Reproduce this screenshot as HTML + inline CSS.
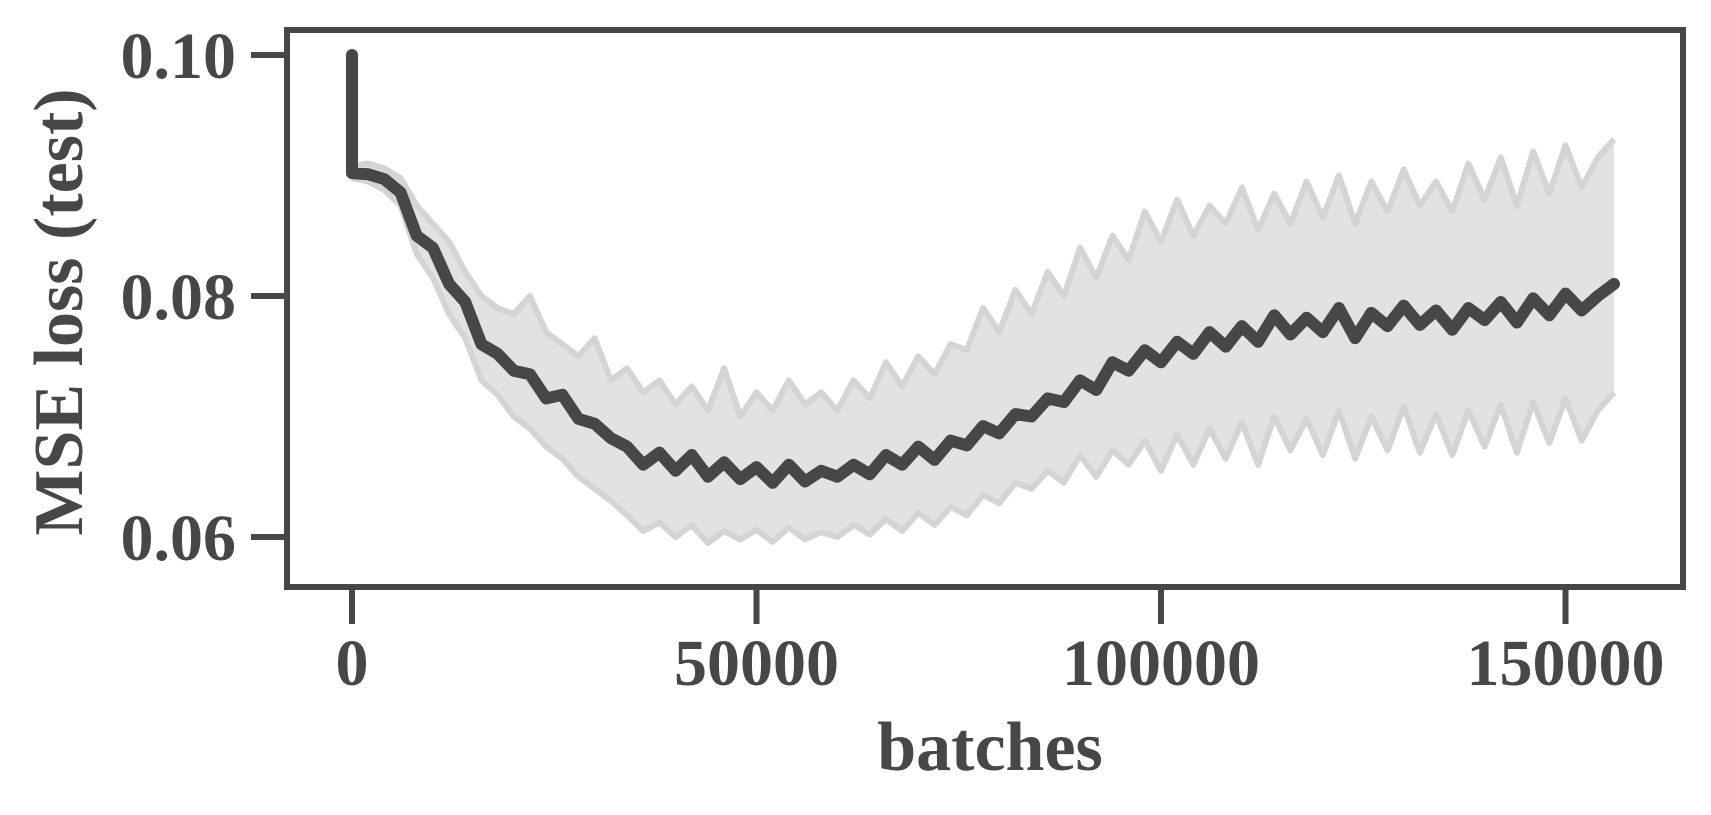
<!DOCTYPE html>
<html><head><meta charset="utf-8"><style>
html,body{margin:0;padding:0;background:#fff;}
svg{display:block;}
text{font-family:"Liberation Serif",serif;font-weight:bold;fill:#474747;}
</style></head><body>
<svg id="chart" width="1711" height="815" viewBox="0 0 1711 815">
<g id="plot"></g>
<rect x="287" y="30" width="1396" height="557" fill="none" stroke="#474747" stroke-width="6"/>
<g id="yaxis"></g>
<g id="xaxis"></g>
<text x="990" y="770" font-size="70" text-anchor="middle">batches</text>
<text transform="translate(82,312) rotate(-90)" font-size="70" text-anchor="middle">MSE loss (test)</text>
</svg>
<script>
const initialLoss = 0.1;
const batches = Array.from({length:79},(_, i)=>i*2000);
const meanLoss = [0.0902,0.0901,0.0897,0.0886,0.0850,0.0840,0.0810,0.0795,0.0760,0.0752,
0.0738,0.0735,0.0715,0.0718,0.0698,0.0694,0.0682,0.0675,0.0660,0.0670,
0.0655,0.0668,0.0650,0.0662,0.0648,0.0658,0.0645,0.0660,0.0646,0.0655,
0.0650,0.0660,0.0652,0.0668,0.0660,0.0675,0.0664,0.0680,0.0676,0.0692,
0.0686,0.0702,0.0700,0.0715,0.0712,0.0730,0.0722,0.0745,0.0738,0.0755,
0.0745,0.0762,0.0752,0.0770,0.0758,0.0775,0.0762,0.0784,0.0768,0.0782,
0.0770,0.0790,0.0765,0.0786,0.0775,0.0792,0.0776,0.0788,0.0772,0.0790,
0.0780,0.0795,0.0778,0.0798,0.0784,0.0802,0.0788,0.0800,0.0810];
const upperLoss = [0.0908,0.0910,0.0906,0.0898,0.0875,0.0860,0.0845,0.0820,0.0800,0.0790,
0.0785,0.0800,0.0770,0.0760,0.0750,0.0765,0.0730,0.0740,0.0720,0.0730,
0.0710,0.0725,0.0705,0.0740,0.0700,0.0720,0.0705,0.0730,0.0710,0.0720,
0.0705,0.0730,0.0715,0.0745,0.0725,0.0750,0.0735,0.0760,0.0755,0.0790,
0.0770,0.0805,0.0785,0.0820,0.0800,0.0840,0.0815,0.0850,0.0830,0.0870,
0.0845,0.0880,0.0850,0.0875,0.0860,0.0890,0.0855,0.0885,0.0860,0.0895,
0.0865,0.0900,0.0860,0.0895,0.0870,0.0905,0.0875,0.0895,0.0870,0.0910,
0.0880,0.0915,0.0875,0.0920,0.0885,0.0925,0.0890,0.0915,0.0930];
const lowerLoss = [0.0898,0.0895,0.0888,0.0875,0.0835,0.0815,0.0785,0.0765,0.0730,0.0718,
0.0700,0.0690,0.0675,0.0665,0.0650,0.0640,0.0630,0.0618,0.0605,0.0612,
0.0600,0.0610,0.0595,0.0605,0.0598,0.0606,0.0596,0.0608,0.0598,0.0604,
0.0600,0.0610,0.0602,0.0615,0.0605,0.0620,0.0610,0.0625,0.0618,0.0635,
0.0628,0.0645,0.0640,0.0655,0.0645,0.0668,0.0650,0.0672,0.0660,0.0680,
0.0655,0.0685,0.0660,0.0690,0.0665,0.0695,0.0660,0.0700,0.0672,0.0698,
0.0668,0.0705,0.0665,0.0700,0.0672,0.0708,0.0670,0.0702,0.0668,0.0705,
0.0675,0.0710,0.0670,0.0712,0.0678,0.0715,0.0680,0.0705,0.0720];
const yTicks = [0.06, 0.08, 0.10];
const yTickLabels = ["0.06", "0.08", "0.10"];
const xTicks = [0, 50000, 100000, 150000];
const xTickLabels = ["0", "50000", "100000", "150000"];

const NS = "http://www.w3.org/2000/svg";
function xs(v){ return 352 + v * (404.5/50000); }
function ys(v){ return 537 - (v - 0.06) * (241/0.02); }
function mk(tag, attrs, parent){ const e = document.createElementNS(NS, tag); for (const k in attrs) e.setAttribute(k, attrs[k]); parent.appendChild(e); return e; }

const plot = document.getElementById('plot');
let bandPts = batches.map((b,i)=>xs(b)+','+ys(upperLoss[i])).concat(batches.slice().reverse().map((b,j)=>{const i=batches.length-1-j;return xs(b)+','+ys(lowerLoss[i]);})).join(' ');
const band = mk('polygon', {points: bandPts, fill:'#e2e2e2', stroke:'none'}, plot);


const up = mk('polyline', {points: batches.map((b,i)=>xs(b)+','+ys(upperLoss[i])).join(' '), fill:'none', stroke:'#d4d4d4', 'stroke-width':6, 'stroke-linejoin':'round'}, plot);


const lo = mk('polyline', {points: batches.map((b,i)=>xs(b)+','+ys(lowerLoss[i])).join(' '), fill:'none', stroke:'#d4d4d4', 'stroke-width':6, 'stroke-linejoin':'round'}, plot);


const meanPts = [xs(0)+','+ys(initialLoss)].concat(batches.map((b,i)=>xs(b)+','+ys(meanLoss[i]))).join(' ');
const ml = mk('polyline', {points: meanPts, fill:'none', stroke:'#474747', 'stroke-width':12, 'stroke-linejoin':'round', 'stroke-linecap':'round'}, plot);



const yaxis = document.getElementById('yaxis');
yTicks.forEach((t,i)=>{
  const y = ys(t);
  const tk = mk('line', {x1:251, x2:287, y1:y, y2:y, stroke:'#474747', 'stroke-width':6}, yaxis);
  
  
  const lb = mk('text', {x:236, y:y+23, 'font-size':66, 'text-anchor':'end'}, yaxis);
  lb.textContent = yTickLabels[i];
  
  
});
const xaxis = document.getElementById('xaxis');
xTicks.forEach((t,i)=>{
  const x = xs(t);
  const tk = mk('line', {x1:x, x2:x, y1:587, y2:624, stroke:'#474747', 'stroke-width':6}, xaxis);
  
  
  const lb = mk('text', {x:x, y:685, 'font-size':66, 'text-anchor':'middle'}, xaxis);
  lb.textContent = xTickLabels[i];
  
  
});
</script>
</body></html>
